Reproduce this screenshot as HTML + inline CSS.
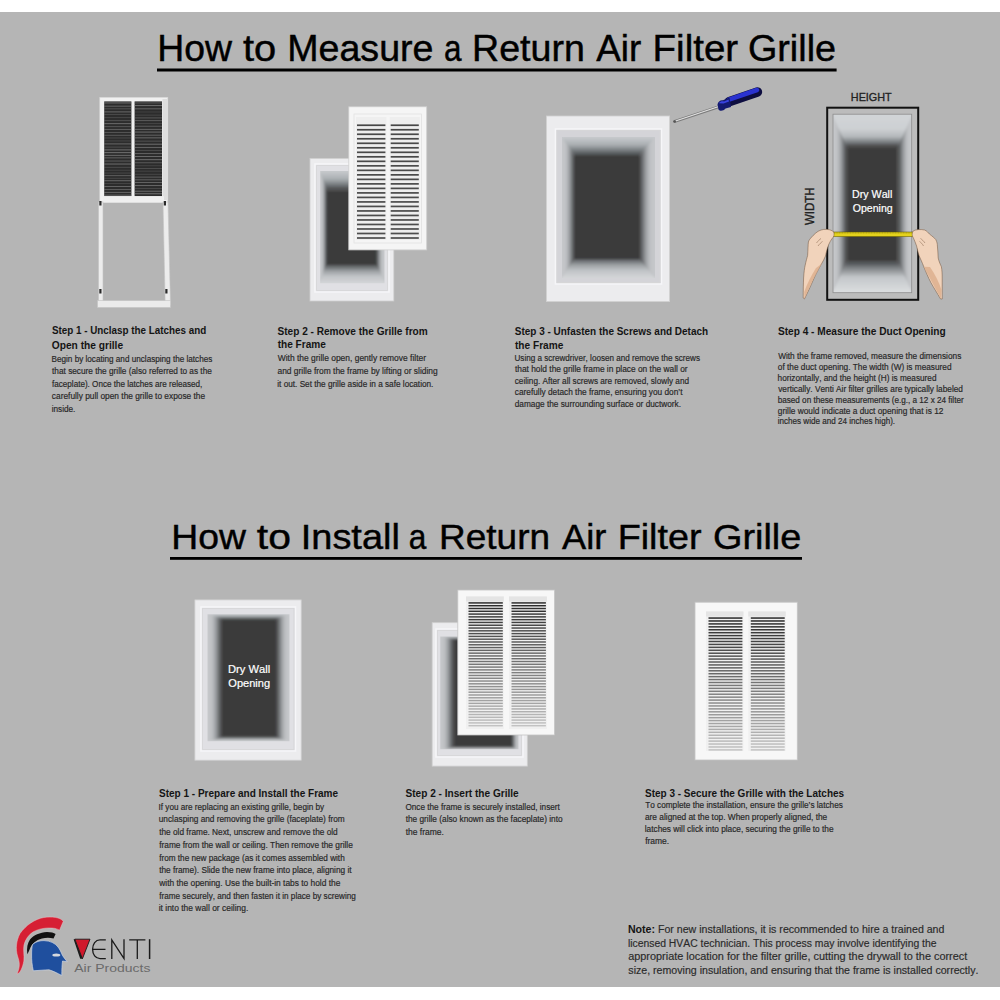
<!DOCTYPE html>
<html><head><meta charset="utf-8"><title>How to Measure a Return Air Filter Grille</title>
<style>
html,body{margin:0;padding:0;background:#ffffff;width:1000px;height:1000px;overflow:hidden}
svg{display:block}
text{font-family:"Liberation Sans",sans-serif;font-kerning:none}
</style></head><body>
<svg width="1000" height="1000" viewBox="0 0 1000 1000">
<defs>
<clipPath id="c1"><rect x="320.20" y="171.00" width="64.30" height="112.30" fill="#000"/></clipPath>
<filter id="f2" x="-10%" y="-10%" width="120%" height="120%"><feGaussianBlur stdDeviation="1.2"/></filter>
<linearGradient id="g3" gradientUnits="userSpaceOnUse" x1="0" y1="171" x2="0" y2="190.3"><stop offset="0" stop-color="#c8cbce"/><stop offset="0.42" stop-color="#a9aeb1"/><stop offset="0.68" stop-color="#7b8083"/><stop offset="0.95" stop-color="#4a4d4f"/><stop offset="1" stop-color="#3e3e3e"/></linearGradient>
<linearGradient id="g4" gradientUnits="userSpaceOnUse" x1="0" y1="265.5" x2="0" y2="283.3"><stop offset="0" stop-color="#55595c"/><stop offset="0.3" stop-color="#9a9ea1"/><stop offset="0.6" stop-color="#c0c3c6"/><stop offset="1" stop-color="#d4d6d8"/></linearGradient>
<linearGradient id="g5" gradientUnits="userSpaceOnUse" x1="320.2" y1="0" x2="327" y2="0"><stop offset="0" stop-color="#c6c8cb"/><stop offset="0.3" stop-color="#c0c2c5"/><stop offset="0.55" stop-color="#a0a3a6"/><stop offset="0.8" stop-color="#686b6e"/><stop offset="1" stop-color="#3e3e3e"/></linearGradient>
<linearGradient id="g6" gradientUnits="userSpaceOnUse" x1="384.5" y1="0" x2="376" y2="0"><stop offset="0" stop-color="#c6c8cb"/><stop offset="0.3" stop-color="#c0c2c5"/><stop offset="0.55" stop-color="#a0a3a6"/><stop offset="0.8" stop-color="#686b6e"/><stop offset="1" stop-color="#3e3e3e"/></linearGradient>
<clipPath id="c7"><rect x="562.00" y="137.00" width="93.00" height="141.00" fill="#000"/></clipPath>
<filter id="f8" x="-10%" y="-10%" width="120%" height="120%"><feGaussianBlur stdDeviation="1.2"/></filter>
<linearGradient id="g9" gradientUnits="userSpaceOnUse" x1="0" y1="137" x2="0" y2="156"><stop offset="0" stop-color="#c8cbce"/><stop offset="0.42" stop-color="#a9aeb1"/><stop offset="0.68" stop-color="#7b8083"/><stop offset="0.95" stop-color="#4a4d4f"/><stop offset="1" stop-color="#3e3e3e"/></linearGradient>
<linearGradient id="g10" gradientUnits="userSpaceOnUse" x1="0" y1="259" x2="0" y2="278"><stop offset="0" stop-color="#55595c"/><stop offset="0.3" stop-color="#9a9ea1"/><stop offset="0.6" stop-color="#c0c3c6"/><stop offset="1" stop-color="#d4d6d8"/></linearGradient>
<linearGradient id="g11" gradientUnits="userSpaceOnUse" x1="562" y1="0" x2="575" y2="0"><stop offset="0" stop-color="#c6c8cb"/><stop offset="0.3" stop-color="#c0c2c5"/><stop offset="0.55" stop-color="#a0a3a6"/><stop offset="0.8" stop-color="#686b6e"/><stop offset="1" stop-color="#3e3e3e"/></linearGradient>
<linearGradient id="g12" gradientUnits="userSpaceOnUse" x1="655" y1="0" x2="639" y2="0"><stop offset="0" stop-color="#c6c8cb"/><stop offset="0.3" stop-color="#c0c2c5"/><stop offset="0.55" stop-color="#a0a3a6"/><stop offset="0.8" stop-color="#686b6e"/><stop offset="1" stop-color="#3e3e3e"/></linearGradient>
<clipPath id="c13"><rect x="833.00" y="114.20" width="78.70" height="178.50" fill="#000"/></clipPath>
<filter id="f14" x="-10%" y="-10%" width="120%" height="120%"><feGaussianBlur stdDeviation="1.2"/></filter>
<linearGradient id="g15" gradientUnits="userSpaceOnUse" x1="0" y1="114.2" x2="0" y2="147.2"><stop offset="0" stop-color="#d2d5d8"/><stop offset="0.45" stop-color="#cdd0d3"/><stop offset="0.68" stop-color="#b4b8bb"/><stop offset="0.86" stop-color="#74787b"/><stop offset="1" stop-color="#3e3e3e"/></linearGradient>
<linearGradient id="g16" gradientUnits="userSpaceOnUse" x1="0" y1="261.7" x2="0" y2="292.7"><stop offset="0" stop-color="#45484a"/><stop offset="0.2" stop-color="#7e8285"/><stop offset="0.5" stop-color="#c4c7ca"/><stop offset="1" stop-color="#dcdee0"/></linearGradient>
<linearGradient id="g17" gradientUnits="userSpaceOnUse" x1="833" y1="0" x2="847.2" y2="0"><stop offset="0" stop-color="#c6c8cb"/><stop offset="0.3" stop-color="#c0c2c5"/><stop offset="0.55" stop-color="#a0a3a6"/><stop offset="0.8" stop-color="#686b6e"/><stop offset="1" stop-color="#3e3e3e"/></linearGradient>
<linearGradient id="g18" gradientUnits="userSpaceOnUse" x1="911.7" y1="0" x2="897.5" y2="0"><stop offset="0" stop-color="#c6c8cb"/><stop offset="0.3" stop-color="#c0c2c5"/><stop offset="0.55" stop-color="#a0a3a6"/><stop offset="0.8" stop-color="#686b6e"/><stop offset="1" stop-color="#3e3e3e"/></linearGradient>
<clipPath id="c19"><rect x="207.50" y="614.30" width="82.00" height="127.00" fill="#000"/></clipPath>
<filter id="f20" x="-10%" y="-10%" width="120%" height="120%"><feGaussianBlur stdDeviation="1.5"/></filter>
<linearGradient id="g21" gradientUnits="userSpaceOnUse" x1="0" y1="614.3" x2="0" y2="618.8"><stop offset="0" stop-color="#c8cbce"/><stop offset="0.42" stop-color="#a9aeb1"/><stop offset="0.68" stop-color="#7b8083"/><stop offset="0.95" stop-color="#4a4d4f"/><stop offset="1" stop-color="#3e3e3e"/></linearGradient>
<linearGradient id="g22" gradientUnits="userSpaceOnUse" x1="0" y1="737.7" x2="0" y2="741.3"><stop offset="0" stop-color="#55595c"/><stop offset="0.3" stop-color="#9a9ea1"/><stop offset="0.6" stop-color="#c0c3c6"/><stop offset="1" stop-color="#d4d6d8"/></linearGradient>
<linearGradient id="g23" gradientUnits="userSpaceOnUse" x1="207.5" y1="0" x2="221.9" y2="0"><stop offset="0" stop-color="#c6c8cb"/><stop offset="0.3" stop-color="#c0c2c5"/><stop offset="0.55" stop-color="#a0a3a6"/><stop offset="0.8" stop-color="#686b6e"/><stop offset="1" stop-color="#3e3e3e"/></linearGradient>
<linearGradient id="g24" gradientUnits="userSpaceOnUse" x1="289.5" y1="0" x2="276" y2="0"><stop offset="0" stop-color="#c6c8cb"/><stop offset="0.3" stop-color="#c0c2c5"/><stop offset="0.55" stop-color="#a0a3a6"/><stop offset="0.8" stop-color="#686b6e"/><stop offset="1" stop-color="#3e3e3e"/></linearGradient>
<clipPath id="c25"><rect x="440.20" y="636.60" width="78.30" height="112.70" fill="#000"/></clipPath>
<filter id="f26" x="-10%" y="-10%" width="120%" height="120%"><feGaussianBlur stdDeviation="1.5"/></filter>
<linearGradient id="g27" gradientUnits="userSpaceOnUse" x1="0" y1="636.6" x2="0" y2="639"><stop offset="0" stop-color="#c8cbce"/><stop offset="0.42" stop-color="#a9aeb1"/><stop offset="0.68" stop-color="#7b8083"/><stop offset="0.95" stop-color="#4a4d4f"/><stop offset="1" stop-color="#3e3e3e"/></linearGradient>
<linearGradient id="g28" gradientUnits="userSpaceOnUse" x1="0" y1="747.7" x2="0" y2="749.3"><stop offset="0" stop-color="#55595c"/><stop offset="0.3" stop-color="#9a9ea1"/><stop offset="0.6" stop-color="#c0c3c6"/><stop offset="1" stop-color="#d4d6d8"/></linearGradient>
<linearGradient id="g29" gradientUnits="userSpaceOnUse" x1="440.2" y1="0" x2="453.8" y2="0"><stop offset="0" stop-color="#c6c8cb"/><stop offset="0.3" stop-color="#c0c2c5"/><stop offset="0.55" stop-color="#a0a3a6"/><stop offset="0.8" stop-color="#686b6e"/><stop offset="1" stop-color="#3e3e3e"/></linearGradient>
<linearGradient id="g30" gradientUnits="userSpaceOnUse" x1="518.5" y1="0" x2="512" y2="0"><stop offset="0" stop-color="#c6c8cb"/><stop offset="0.3" stop-color="#c0c2c5"/><stop offset="0.55" stop-color="#a0a3a6"/><stop offset="0.8" stop-color="#686b6e"/><stop offset="1" stop-color="#3e3e3e"/></linearGradient>
</defs>
<rect x="0.00" y="0.00" width="1000.00" height="1000.00" fill="#ffffff"/>
<rect x="0.00" y="12.00" width="1000.00" height="975.00" fill="#b5b5b5"/>
<text x="157.31" y="61.00" font-size="36.3" font-weight="normal" fill="#000" textLength="74.72" lengthAdjust="spacingAndGlyphs" stroke="#000" stroke-width="0.45">How</text>
<text x="243.00" y="61.00" font-size="36.3" font-weight="normal" fill="#000" textLength="33.25" lengthAdjust="spacingAndGlyphs" stroke="#000" stroke-width="0.45">to</text>
<text x="287.30" y="61.00" font-size="36.3" font-weight="normal" fill="#000" textLength="146.14" lengthAdjust="spacingAndGlyphs" stroke="#000" stroke-width="0.45">Measure</text>
<text x="443.94" y="61.00" font-size="36.3" font-weight="normal" fill="#000" textLength="17.50" lengthAdjust="spacingAndGlyphs" stroke="#000" stroke-width="0.45">a</text>
<text x="472.09" y="61.00" font-size="36.3" font-weight="normal" fill="#000" textLength="112.82" lengthAdjust="spacingAndGlyphs" stroke="#000" stroke-width="0.45">Return</text>
<text x="596.20" y="61.00" font-size="36.3" font-weight="normal" fill="#000" textLength="45.05" lengthAdjust="spacingAndGlyphs" stroke="#000" stroke-width="0.45">Air</text>
<text x="652.62" y="61.00" font-size="36.3" font-weight="normal" fill="#000" textLength="85.55" lengthAdjust="spacingAndGlyphs" stroke="#000" stroke-width="0.45">Filter</text>
<text x="747.91" y="61.00" font-size="36.3" font-weight="normal" fill="#000" textLength="88.13" lengthAdjust="spacingAndGlyphs" stroke="#000" stroke-width="0.45">Grille</text>
<rect x="157.00" y="68.50" width="679.60" height="3.00" fill="#000"/>
<text x="171.22" y="549.40" font-size="35.8" font-weight="normal" fill="#000" textLength="74.62" lengthAdjust="spacingAndGlyphs" stroke="#000" stroke-width="0.45">How</text>
<text x="256.89" y="549.40" font-size="35.8" font-weight="normal" fill="#000" textLength="34.11" lengthAdjust="spacingAndGlyphs" stroke="#000" stroke-width="0.45">to</text>
<text x="300.79" y="549.40" font-size="35.8" font-weight="normal" fill="#000" textLength="99.07" lengthAdjust="spacingAndGlyphs" stroke="#000" stroke-width="0.45">Install</text>
<text x="408.83" y="549.40" font-size="35.8" font-weight="normal" fill="#000" textLength="17.60" lengthAdjust="spacingAndGlyphs" stroke="#000" stroke-width="0.45">a</text>
<text x="439.04" y="549.40" font-size="35.8" font-weight="normal" fill="#000" textLength="111.04" lengthAdjust="spacingAndGlyphs" stroke="#000" stroke-width="0.45">Return</text>
<text x="562.00" y="549.40" font-size="35.8" font-weight="normal" fill="#000" textLength="44.24" lengthAdjust="spacingAndGlyphs" stroke="#000" stroke-width="0.45">Air</text>
<text x="617.68" y="549.40" font-size="35.8" font-weight="normal" fill="#000" textLength="83.78" lengthAdjust="spacingAndGlyphs" stroke="#000" stroke-width="0.45">Filter</text>
<text x="713.01" y="549.40" font-size="35.8" font-weight="normal" fill="#000" textLength="88.24" lengthAdjust="spacingAndGlyphs" stroke="#000" stroke-width="0.45">Grille</text>
<rect x="170.00" y="557.00" width="632.00" height="2.80" fill="#000"/>
<text x="51.90" y="334.40" font-size="10.5" font-weight="bold" fill="#141414" textLength="154.34" lengthAdjust="spacingAndGlyphs">Step 1 - Unclasp the Latches and</text>
<text x="51.79" y="348.60" font-size="10.5" font-weight="bold" fill="#141414" textLength="71.32" lengthAdjust="spacingAndGlyphs">Open the grille</text>
<text x="51.55" y="361.60" font-size="8.5" font-weight="normal" fill="#262626" textLength="160.75" lengthAdjust="spacingAndGlyphs" stroke="#2a2a2a" stroke-width="0.18">Begin by locating and unclasping the latches</text>
<text x="52.08" y="374.20" font-size="8.5" font-weight="normal" fill="#262626" textLength="159.74" lengthAdjust="spacingAndGlyphs" stroke="#2a2a2a" stroke-width="0.18">that secure the grille (also referred to as the</text>
<text x="52.08" y="386.80" font-size="8.5" font-weight="normal" fill="#262626" textLength="150.22" lengthAdjust="spacingAndGlyphs" stroke="#2a2a2a" stroke-width="0.18">faceplate). Once the latches are released,</text>
<text x="51.87" y="399.40" font-size="8.5" font-weight="normal" fill="#262626" textLength="153.27" lengthAdjust="spacingAndGlyphs" stroke="#2a2a2a" stroke-width="0.18">carefully pull open the grille to expose the</text>
<text x="51.67" y="412.00" font-size="8.5" font-weight="normal" fill="#262626" textLength="23.74" lengthAdjust="spacingAndGlyphs" stroke="#2a2a2a" stroke-width="0.18">inside.</text>
<text x="277.50" y="334.60" font-size="10.5" font-weight="bold" fill="#141414" textLength="150.18" lengthAdjust="spacingAndGlyphs">Step 2 - Remove the Grille from</text>
<text x="277.70" y="348.10" font-size="10.5" font-weight="bold" fill="#141414" textLength="48.20" lengthAdjust="spacingAndGlyphs">the Frame</text>
<text x="277.76" y="361.40" font-size="8.5" font-weight="normal" fill="#262626" textLength="148.26" lengthAdjust="spacingAndGlyphs" stroke="#2a2a2a" stroke-width="0.18">With the grille open, gently remove filter</text>
<text x="277.46" y="374.00" font-size="8.5" font-weight="normal" fill="#262626" textLength="160.24" lengthAdjust="spacingAndGlyphs" stroke="#2a2a2a" stroke-width="0.18">and grille from the frame by lifting or sliding</text>
<text x="277.27" y="386.60" font-size="8.5" font-weight="normal" fill="#262626" textLength="156.14" lengthAdjust="spacingAndGlyphs" stroke="#2a2a2a" stroke-width="0.18">it out. Set the grille aside in a safe location.</text>
<text x="514.80" y="334.60" font-size="10.5" font-weight="bold" fill="#141414" textLength="193.29" lengthAdjust="spacingAndGlyphs">Step 3 - Unfasten the Screws and Detach</text>
<text x="515.00" y="348.50" font-size="10.5" font-weight="bold" fill="#141414" textLength="48.30" lengthAdjust="spacingAndGlyphs">the Frame</text>
<text x="514.49" y="360.80" font-size="8.5" font-weight="normal" fill="#262626" textLength="185.48" lengthAdjust="spacingAndGlyphs" stroke="#2a2a2a" stroke-width="0.18">Using a screwdriver, loosen and remove the screws</text>
<text x="514.97" y="372.30" font-size="8.5" font-weight="normal" fill="#262626" textLength="172.64" lengthAdjust="spacingAndGlyphs" stroke="#2a2a2a" stroke-width="0.18">that hold the grille frame in place on the wall or</text>
<text x="514.77" y="383.80" font-size="8.5" font-weight="normal" fill="#262626" textLength="174.23" lengthAdjust="spacingAndGlyphs" stroke="#2a2a2a" stroke-width="0.18">ceiling. After all screws are removed, slowly and</text>
<text x="514.77" y="395.30" font-size="8.5" font-weight="normal" fill="#262626" textLength="167.71" lengthAdjust="spacingAndGlyphs" stroke="#2a2a2a" stroke-width="0.18">carefully detach the frame, ensuring you don’t</text>
<text x="514.77" y="406.80" font-size="8.5" font-weight="normal" fill="#262626" textLength="166.25" lengthAdjust="spacingAndGlyphs" stroke="#2a2a2a" stroke-width="0.18">damage the surrounding surface or ductwork.</text>
<text x="777.90" y="335.00" font-size="10.5" font-weight="bold" fill="#141414" textLength="167.75" lengthAdjust="spacingAndGlyphs">Step 4 - Measure the Duct Opening</text>
<text x="778.16" y="359.40" font-size="8.5" font-weight="normal" fill="#262626" textLength="183.14" lengthAdjust="spacingAndGlyphs" stroke="#2a2a2a" stroke-width="0.18">With the frame removed, measure the dimensions</text>
<text x="777.87" y="370.30" font-size="8.5" font-weight="normal" fill="#262626" textLength="173.65" lengthAdjust="spacingAndGlyphs" stroke="#2a2a2a" stroke-width="0.18">of the duct opening. The width (W) is measured</text>
<text x="777.62" y="381.20" font-size="8.5" font-weight="normal" fill="#262626" textLength="158.87" lengthAdjust="spacingAndGlyphs" stroke="#2a2a2a" stroke-width="0.18">horizontally, and the height (H) is measured</text>
<text x="778.16" y="392.00" font-size="8.5" font-weight="normal" fill="#262626" textLength="184.77" lengthAdjust="spacingAndGlyphs" stroke="#2a2a2a" stroke-width="0.18">vertically. Venti Air filter grilles are typically labeled</text>
<text x="777.67" y="402.80" font-size="8.5" font-weight="normal" fill="#262626" textLength="186.02" lengthAdjust="spacingAndGlyphs" stroke="#2a2a2a" stroke-width="0.18">based on these measurements (e.g., a 12 x 24 filter</text>
<text x="777.87" y="413.60" font-size="8.5" font-weight="normal" fill="#262626" textLength="165.57" lengthAdjust="spacingAndGlyphs" stroke="#2a2a2a" stroke-width="0.18">grille would indicate a duct opening that is 12</text>
<text x="777.67" y="424.30" font-size="8.5" font-weight="normal" fill="#262626" textLength="117.45" lengthAdjust="spacingAndGlyphs" stroke="#2a2a2a" stroke-width="0.18">inches wide and 24 inches high).</text>
<text x="159.00" y="796.50" font-size="10.5" font-weight="bold" fill="#141414" textLength="179.10" lengthAdjust="spacingAndGlyphs">Step 1 - Prepare and Install the Frame</text>
<text x="158.57" y="809.80" font-size="8.5" font-weight="normal" fill="#262626" textLength="165.63" lengthAdjust="spacingAndGlyphs" stroke="#2a2a2a" stroke-width="0.18">If you are replacing an existing grille, begin by</text>
<text x="158.76" y="822.40" font-size="8.5" font-weight="normal" fill="#262626" textLength="185.95" lengthAdjust="spacingAndGlyphs" stroke="#2a2a2a" stroke-width="0.18">unclasping and removing the grille (faceplate) from</text>
<text x="159.18" y="835.10" font-size="8.5" font-weight="normal" fill="#262626" textLength="178.54" lengthAdjust="spacingAndGlyphs" stroke="#2a2a2a" stroke-width="0.18">the old frame. Next, unscrew and remove the old</text>
<text x="159.18" y="847.80" font-size="8.5" font-weight="normal" fill="#262626" textLength="193.66" lengthAdjust="spacingAndGlyphs" stroke="#2a2a2a" stroke-width="0.18">frame from the wall or ceiling. Then remove the grille</text>
<text x="159.18" y="860.60" font-size="8.5" font-weight="normal" fill="#262626" textLength="185.53" lengthAdjust="spacingAndGlyphs" stroke="#2a2a2a" stroke-width="0.18">from the new package (as it comes assembled with</text>
<text x="159.18" y="873.30" font-size="8.5" font-weight="normal" fill="#262626" textLength="192.37" lengthAdjust="spacingAndGlyphs" stroke="#2a2a2a" stroke-width="0.18">the frame). Slide the new frame into place, aligning it</text>
<text x="159.30" y="886.00" font-size="8.5" font-weight="normal" fill="#262626" textLength="181.04" lengthAdjust="spacingAndGlyphs" stroke="#2a2a2a" stroke-width="0.18">with the opening. Use the built-in tabs to hold the</text>
<text x="159.18" y="898.70" font-size="8.5" font-weight="normal" fill="#262626" textLength="196.61" lengthAdjust="spacingAndGlyphs" stroke="#2a2a2a" stroke-width="0.18">frame securely, and then fasten it in place by screwing</text>
<text x="158.75" y="911.40" font-size="8.5" font-weight="normal" fill="#262626" textLength="89.48" lengthAdjust="spacingAndGlyphs" stroke="#2a2a2a" stroke-width="0.18">it into the wall or ceiling.</text>
<text x="405.50" y="796.70" font-size="10.5" font-weight="bold" fill="#141414" textLength="113.21" lengthAdjust="spacingAndGlyphs">Step 2 - Insert the Grille</text>
<text x="405.43" y="809.70" font-size="8.5" font-weight="normal" fill="#262626" textLength="154.42" lengthAdjust="spacingAndGlyphs" stroke="#2a2a2a" stroke-width="0.18">Once the frame is securely installed, insert</text>
<text x="405.68" y="822.40" font-size="8.5" font-weight="normal" fill="#262626" textLength="156.96" lengthAdjust="spacingAndGlyphs" stroke="#2a2a2a" stroke-width="0.18">the grille (also known as the faceplate) into</text>
<text x="405.67" y="835.00" font-size="8.5" font-weight="normal" fill="#262626" textLength="38.27" lengthAdjust="spacingAndGlyphs" stroke="#2a2a2a" stroke-width="0.18">the frame.</text>
<text x="645.00" y="796.50" font-size="10.5" font-weight="bold" fill="#141414" textLength="199.10" lengthAdjust="spacingAndGlyphs">Step 3 - Secure the Grille with the Latches</text>
<text x="645.13" y="808.10" font-size="8.5" font-weight="normal" fill="#262626" textLength="197.75" lengthAdjust="spacingAndGlyphs" stroke="#2a2a2a" stroke-width="0.18">To complete the installation, ensure the grille’s latches</text>
<text x="644.97" y="820.00" font-size="8.5" font-weight="normal" fill="#262626" textLength="182.26" lengthAdjust="spacingAndGlyphs" stroke="#2a2a2a" stroke-width="0.18">are aligned at the top. When properly aligned, the</text>
<text x="644.76" y="831.90" font-size="8.5" font-weight="normal" fill="#262626" textLength="188.76" lengthAdjust="spacingAndGlyphs" stroke="#2a2a2a" stroke-width="0.18">latches will click into place, securing the grille to the</text>
<text x="645.17" y="843.60" font-size="8.5" font-weight="normal" fill="#262626" textLength="23.98" lengthAdjust="spacingAndGlyphs" stroke="#2a2a2a" stroke-width="0.18">frame.</text>
<text x="627.91" y="933" font-size="10.0" font-weight="bold" fill="#141414" textLength="27.10" lengthAdjust="spacingAndGlyphs">Note:</text>
<text x="657.96" y="933" font-size="10.0" fill="#2a2a2a" textLength="286.47" lengthAdjust="spacingAndGlyphs" stroke="#2a2a2a" stroke-width="0.15">For new installations, it is recommended to hire a trained and</text>
<text x="627.92" y="946.60" font-size="10.0" font-weight="normal" fill="#2a2a2a" textLength="308.59" lengthAdjust="spacingAndGlyphs" stroke="#2a2a2a" stroke-width="0.15">licensed HVAC technician. This process may involve identifying the</text>
<text x="628.16" y="960.10" font-size="10.0" font-weight="normal" fill="#2a2a2a" textLength="339.11" lengthAdjust="spacingAndGlyphs" stroke="#2a2a2a" stroke-width="0.15">appropriate location for the filter grille, cutting the drywall to the correct</text>
<text x="628.33" y="973.70" font-size="10.0" font-weight="normal" fill="#2a2a2a" textLength="350.10" lengthAdjust="spacingAndGlyphs" stroke="#2a2a2a" stroke-width="0.15">size, removing insulation, and ensuring that the frame is installed correctly.</text>
<rect x="99.80" y="97.40" width="68.00" height="104.80" fill="#f1f1f1" stroke="#d8d8d8" stroke-width="0.6"/>
<rect x="162.50" y="99.00" width="5.00" height="101.00" fill="#dedede"/>
<rect x="104.20" y="101.40" width="27.20" height="94.80" fill="#2c2c2c"/>
<rect x="104.20" y="102.50" width="27.20" height="0.9" fill="#8c8c8c" fill-opacity="0.78"/>
<rect x="104.20" y="105.70" width="27.20" height="0.9" fill="#8c8c8c" fill-opacity="0.65"/>
<rect x="104.20" y="108.38" width="27.20" height="0.9" fill="#8c8c8c" fill-opacity="0.43"/>
<rect x="104.20" y="111.45" width="27.20" height="0.9" fill="#8c8c8c" fill-opacity="0.69"/>
<rect x="104.20" y="113.96" width="27.20" height="0.9" fill="#8c8c8c" fill-opacity="0.34"/>
<rect x="104.20" y="117.18" width="27.20" height="0.9" fill="#8c8c8c" fill-opacity="0.31"/>
<rect x="104.20" y="120.20" width="27.20" height="0.9" fill="#8c8c8c" fill-opacity="0.43"/>
<rect x="104.20" y="123.22" width="27.20" height="0.9" fill="#8c8c8c" fill-opacity="0.72"/>
<rect x="104.20" y="126.19" width="27.20" height="0.9" fill="#8c8c8c" fill-opacity="0.47"/>
<rect x="104.20" y="128.94" width="27.20" height="0.9" fill="#8c8c8c" fill-opacity="0.59"/>
<rect x="104.20" y="131.95" width="27.20" height="0.9" fill="#8c8c8c" fill-opacity="0.48"/>
<rect x="104.20" y="134.82" width="27.20" height="0.9" fill="#8c8c8c" fill-opacity="0.54"/>
<rect x="104.20" y="137.53" width="27.20" height="0.9" fill="#8c8c8c" fill-opacity="0.35"/>
<rect x="104.20" y="140.48" width="27.20" height="0.9" fill="#8c8c8c" fill-opacity="0.31"/>
<rect x="104.20" y="143.46" width="27.20" height="0.9" fill="#8c8c8c" fill-opacity="0.69"/>
<rect x="104.20" y="146.62" width="27.20" height="0.9" fill="#8c8c8c" fill-opacity="0.39"/>
<rect x="104.20" y="149.45" width="27.20" height="0.9" fill="#8c8c8c" fill-opacity="0.76"/>
<rect x="104.20" y="152.23" width="27.20" height="0.9" fill="#8c8c8c" fill-opacity="0.80"/>
<rect x="104.20" y="154.89" width="27.20" height="0.9" fill="#8c8c8c" fill-opacity="0.71"/>
<rect x="104.20" y="157.43" width="27.20" height="0.9" fill="#8c8c8c" fill-opacity="0.62"/>
<rect x="104.20" y="160.57" width="27.20" height="0.9" fill="#8c8c8c" fill-opacity="0.55"/>
<rect x="104.20" y="163.58" width="27.20" height="0.9" fill="#8c8c8c" fill-opacity="0.75"/>
<rect x="104.20" y="166.87" width="27.20" height="0.9" fill="#8c8c8c" fill-opacity="0.35"/>
<rect x="104.20" y="169.79" width="27.20" height="0.9" fill="#8c8c8c" fill-opacity="0.27"/>
<rect x="104.20" y="172.60" width="27.20" height="0.9" fill="#8c8c8c" fill-opacity="0.33"/>
<rect x="104.20" y="175.22" width="27.20" height="0.9" fill="#8c8c8c" fill-opacity="0.59"/>
<rect x="104.20" y="177.79" width="27.20" height="0.9" fill="#8c8c8c" fill-opacity="0.33"/>
<rect x="104.20" y="180.30" width="27.20" height="0.9" fill="#8c8c8c" fill-opacity="0.70"/>
<rect x="104.20" y="182.99" width="27.20" height="0.9" fill="#8c8c8c" fill-opacity="0.29"/>
<rect x="104.20" y="185.99" width="27.20" height="0.9" fill="#8c8c8c" fill-opacity="0.64"/>
<rect x="104.20" y="188.99" width="27.20" height="0.9" fill="#8c8c8c" fill-opacity="0.55"/>
<rect x="104.20" y="191.92" width="27.20" height="0.9" fill="#8c8c8c" fill-opacity="0.65"/>
<rect x="104.20" y="194.67" width="27.20" height="0.9" fill="#8c8c8c" fill-opacity="0.71"/>
<rect x="134.60" y="101.40" width="27.40" height="94.80" fill="#2c2c2c"/>
<rect x="134.60" y="102.50" width="27.40" height="0.9" fill="#8c8c8c" fill-opacity="0.52"/>
<rect x="134.60" y="105.16" width="27.40" height="0.9" fill="#8c8c8c" fill-opacity="0.79"/>
<rect x="134.60" y="108.39" width="27.40" height="0.9" fill="#8c8c8c" fill-opacity="0.66"/>
<rect x="134.60" y="111.56" width="27.40" height="0.9" fill="#8c8c8c" fill-opacity="0.26"/>
<rect x="134.60" y="114.67" width="27.40" height="0.9" fill="#8c8c8c" fill-opacity="0.31"/>
<rect x="134.60" y="117.48" width="27.40" height="0.9" fill="#8c8c8c" fill-opacity="0.52"/>
<rect x="134.60" y="120.18" width="27.40" height="0.9" fill="#8c8c8c" fill-opacity="0.55"/>
<rect x="134.60" y="123.04" width="27.40" height="0.9" fill="#8c8c8c" fill-opacity="0.27"/>
<rect x="134.60" y="125.77" width="27.40" height="0.9" fill="#8c8c8c" fill-opacity="0.53"/>
<rect x="134.60" y="128.90" width="27.40" height="0.9" fill="#8c8c8c" fill-opacity="0.65"/>
<rect x="134.60" y="131.62" width="27.40" height="0.9" fill="#8c8c8c" fill-opacity="0.75"/>
<rect x="134.60" y="134.72" width="27.40" height="0.9" fill="#8c8c8c" fill-opacity="0.63"/>
<rect x="134.60" y="137.43" width="27.40" height="0.9" fill="#8c8c8c" fill-opacity="0.73"/>
<rect x="134.60" y="140.67" width="27.40" height="0.9" fill="#8c8c8c" fill-opacity="0.46"/>
<rect x="134.60" y="143.74" width="27.40" height="0.9" fill="#8c8c8c" fill-opacity="0.76"/>
<rect x="134.60" y="146.97" width="27.40" height="0.9" fill="#8c8c8c" fill-opacity="0.62"/>
<rect x="134.60" y="150.01" width="27.40" height="0.9" fill="#8c8c8c" fill-opacity="0.33"/>
<rect x="134.60" y="153.17" width="27.40" height="0.9" fill="#8c8c8c" fill-opacity="0.65"/>
<rect x="134.60" y="156.09" width="27.40" height="0.9" fill="#8c8c8c" fill-opacity="0.72"/>
<rect x="134.60" y="159.25" width="27.40" height="0.9" fill="#8c8c8c" fill-opacity="0.77"/>
<rect x="134.60" y="162.33" width="27.40" height="0.9" fill="#8c8c8c" fill-opacity="0.53"/>
<rect x="134.60" y="165.29" width="27.40" height="0.9" fill="#8c8c8c" fill-opacity="0.28"/>
<rect x="134.60" y="168.10" width="27.40" height="0.9" fill="#8c8c8c" fill-opacity="0.38"/>
<rect x="134.60" y="170.71" width="27.40" height="0.9" fill="#8c8c8c" fill-opacity="0.30"/>
<rect x="134.60" y="173.85" width="27.40" height="0.9" fill="#8c8c8c" fill-opacity="0.30"/>
<rect x="134.60" y="176.64" width="27.40" height="0.9" fill="#8c8c8c" fill-opacity="0.59"/>
<rect x="134.60" y="179.39" width="27.40" height="0.9" fill="#8c8c8c" fill-opacity="0.60"/>
<rect x="134.60" y="182.10" width="27.40" height="0.9" fill="#8c8c8c" fill-opacity="0.63"/>
<rect x="134.60" y="185.14" width="27.40" height="0.9" fill="#8c8c8c" fill-opacity="0.69"/>
<rect x="134.60" y="187.95" width="27.40" height="0.9" fill="#8c8c8c" fill-opacity="0.35"/>
<rect x="134.60" y="190.75" width="27.40" height="0.9" fill="#8c8c8c" fill-opacity="0.69"/>
<rect x="134.60" y="193.32" width="27.40" height="0.9" fill="#8c8c8c" fill-opacity="0.76"/>
<rect x="103.00" y="196.20" width="61.00" height="6.30" fill="#efefef"/>
<rect x="98.50" y="202.00" width="4.50" height="103.00" fill="#ececec" stroke="#c4c4c4" stroke-width="0.6"/>
<path d="M163,202 L168,202 L170.5,305 L165.2,305 Z" fill="#ececec" stroke="#c4c4c4" stroke-width="0.6"/>
<rect x="97.50" y="300.60" width="73.00" height="6.90" fill="#ebebeb" stroke="#c4c4c4" stroke-width="0.6"/>
<rect x="99.30" y="201.00" width="2.20" height="4.50" fill="#2a2a2a"/>
<rect x="163.80" y="201.00" width="2.20" height="4.50" fill="#2a2a2a"/>
<rect x="99.30" y="289.00" width="2.20" height="4.50" fill="#2a2a2a"/>
<rect x="165.30" y="289.00" width="2.20" height="4.50" fill="#2a2a2a"/>
<rect x="310.00" y="158.50" width="83.80" height="142.50" fill="#ececee" stroke="#d0d0d0" stroke-width="0.8"/>
<rect x="315.00" y="164.00" width="74.00" height="128.00" fill="#e0e0e4" stroke="#f6f6f8" stroke-width="1.6"/>
<rect x="316.60" y="165.60" width="70.80" height="124.80" fill="none" stroke="#d6d6d8" stroke-width="0.8"/>
<g clip-path="url(#c1)"><g filter="url(#f2)"><rect x="320.20" y="171.00" width="64.30" height="112.30" fill="#c0c2c5"/><polygon points="318.2,169 386.5,169 376,190.3 327,190.3" fill="url(#g3)"/><polygon points="327,265.5 376,265.5 386.5,285.3 318.2,285.3" fill="url(#g4)"/><polygon points="318.2,169 327,190.3 327,265.5 318.2,285.3" fill="url(#g5)"/><polygon points="386.5,169 376,190.3 376,265.5 386.5,285.3" fill="url(#g6)"/><rect x="327.00" y="190.30" width="49.00" height="75.20" fill="#3a3a3a"/></g></g>
<rect x="348.80" y="106.80" width="77.90" height="143.10" fill="#f5f5f5" stroke="#cfcfcf" stroke-width="0.8"/>
<rect x="354.00" y="114.00" width="67.50" height="129.00" fill="none" stroke="#e2e2e2" stroke-width="0.8"/>
<rect x="356.00" y="117.00" width="30.40" height="123.00" fill="#eeeeee"/>
<rect x="357.00" y="124.40" width="28.40" height="1.7" fill="#383838" fill-opacity="0.92"/><rect x="357.00" y="128.91" width="28.40" height="1.7" fill="#383838" fill-opacity="0.92"/><rect x="357.00" y="133.42" width="28.40" height="1.7" fill="#383838" fill-opacity="0.91"/><rect x="357.00" y="137.93" width="28.40" height="1.7" fill="#383838" fill-opacity="0.91"/><rect x="357.00" y="142.44" width="28.40" height="1.7" fill="#383838" fill-opacity="0.91"/><rect x="357.00" y="146.95" width="28.40" height="1.7" fill="#383838" fill-opacity="0.91"/><rect x="357.00" y="151.46" width="28.40" height="1.7" fill="#383838" fill-opacity="0.91"/><rect x="357.00" y="155.97" width="28.40" height="1.7" fill="#383838" fill-opacity="0.91"/><rect x="357.00" y="160.48" width="28.40" height="1.7" fill="#383838" fill-opacity="0.91"/><rect x="357.00" y="164.99" width="28.40" height="1.7" fill="#383838" fill-opacity="0.90"/><rect x="357.00" y="169.50" width="28.40" height="1.7" fill="#383838" fill-opacity="0.90"/><rect x="357.00" y="174.01" width="28.40" height="1.7" fill="#383838" fill-opacity="0.90"/><rect x="357.00" y="178.52" width="28.40" height="1.7" fill="#383838" fill-opacity="0.90"/><rect x="357.00" y="183.03" width="28.40" height="1.7" fill="#383838" fill-opacity="0.90"/><rect x="357.00" y="187.54" width="28.40" height="1.7" fill="#383838" fill-opacity="0.90"/><rect x="357.00" y="192.05" width="28.40" height="1.7" fill="#383838" fill-opacity="0.90"/><rect x="357.00" y="196.56" width="28.40" height="1.7" fill="#383838" fill-opacity="0.89"/><rect x="357.00" y="201.07" width="28.40" height="1.7" fill="#383838" fill-opacity="0.89"/><rect x="357.00" y="205.58" width="28.40" height="1.7" fill="#383838" fill-opacity="0.89"/><rect x="357.00" y="210.09" width="28.40" height="1.7" fill="#383838" fill-opacity="0.89"/><rect x="357.00" y="214.60" width="28.40" height="1.7" fill="#383838" fill-opacity="0.89"/><rect x="357.00" y="219.11" width="28.40" height="1.7" fill="#383838" fill-opacity="0.89"/><rect x="357.00" y="223.62" width="28.40" height="1.7" fill="#383838" fill-opacity="0.89"/><rect x="357.00" y="228.13" width="28.40" height="1.7" fill="#383838" fill-opacity="0.88"/><rect x="357.00" y="232.64" width="28.40" height="1.7" fill="#383838" fill-opacity="0.88"/><rect x="357.00" y="237.15" width="28.40" height="1.7" fill="#383838" fill-opacity="0.88"/>
<rect x="389.70" y="117.00" width="30.10" height="123.00" fill="#eeeeee"/>
<rect x="390.70" y="124.40" width="28.10" height="1.7" fill="#383838" fill-opacity="0.92"/><rect x="390.70" y="128.91" width="28.10" height="1.7" fill="#383838" fill-opacity="0.92"/><rect x="390.70" y="133.42" width="28.10" height="1.7" fill="#383838" fill-opacity="0.91"/><rect x="390.70" y="137.93" width="28.10" height="1.7" fill="#383838" fill-opacity="0.91"/><rect x="390.70" y="142.44" width="28.10" height="1.7" fill="#383838" fill-opacity="0.91"/><rect x="390.70" y="146.95" width="28.10" height="1.7" fill="#383838" fill-opacity="0.91"/><rect x="390.70" y="151.46" width="28.10" height="1.7" fill="#383838" fill-opacity="0.91"/><rect x="390.70" y="155.97" width="28.10" height="1.7" fill="#383838" fill-opacity="0.91"/><rect x="390.70" y="160.48" width="28.10" height="1.7" fill="#383838" fill-opacity="0.91"/><rect x="390.70" y="164.99" width="28.10" height="1.7" fill="#383838" fill-opacity="0.90"/><rect x="390.70" y="169.50" width="28.10" height="1.7" fill="#383838" fill-opacity="0.90"/><rect x="390.70" y="174.01" width="28.10" height="1.7" fill="#383838" fill-opacity="0.90"/><rect x="390.70" y="178.52" width="28.10" height="1.7" fill="#383838" fill-opacity="0.90"/><rect x="390.70" y="183.03" width="28.10" height="1.7" fill="#383838" fill-opacity="0.90"/><rect x="390.70" y="187.54" width="28.10" height="1.7" fill="#383838" fill-opacity="0.90"/><rect x="390.70" y="192.05" width="28.10" height="1.7" fill="#383838" fill-opacity="0.90"/><rect x="390.70" y="196.56" width="28.10" height="1.7" fill="#383838" fill-opacity="0.89"/><rect x="390.70" y="201.07" width="28.10" height="1.7" fill="#383838" fill-opacity="0.89"/><rect x="390.70" y="205.58" width="28.10" height="1.7" fill="#383838" fill-opacity="0.89"/><rect x="390.70" y="210.09" width="28.10" height="1.7" fill="#383838" fill-opacity="0.89"/><rect x="390.70" y="214.60" width="28.10" height="1.7" fill="#383838" fill-opacity="0.89"/><rect x="390.70" y="219.11" width="28.10" height="1.7" fill="#383838" fill-opacity="0.89"/><rect x="390.70" y="223.62" width="28.10" height="1.7" fill="#383838" fill-opacity="0.89"/><rect x="390.70" y="228.13" width="28.10" height="1.7" fill="#383838" fill-opacity="0.88"/><rect x="390.70" y="232.64" width="28.10" height="1.7" fill="#383838" fill-opacity="0.88"/><rect x="390.70" y="237.15" width="28.10" height="1.7" fill="#383838" fill-opacity="0.88"/>
<rect x="546.40" y="116.00" width="123.20" height="185.60" fill="#ececee" stroke="#d0d0d0" stroke-width="0.8"/>
<rect x="555.50" y="129.00" width="106.00" height="155.00" fill="#d4d4d8" stroke="#f6f6f8" stroke-width="1.6"/>
<rect x="557.10" y="130.60" width="102.80" height="151.80" fill="none" stroke="#d6d6d8" stroke-width="0.8"/>
<g clip-path="url(#c7)"><g filter="url(#f8)"><rect x="562.00" y="137.00" width="93.00" height="141.00" fill="#c0c2c5"/><polygon points="560,135 657,135 639,156 575,156" fill="url(#g9)"/><polygon points="575,259 639,259 657,280 560,280" fill="url(#g10)"/><polygon points="560,135 575,156 575,259 560,280" fill="url(#g11)"/><polygon points="657,135 639,156 639,259 657,280" fill="url(#g12)"/><rect x="575.00" y="156.00" width="64.00" height="103.00" fill="#3a3a3a"/></g></g>
<line x1="674.8" y1="121.4" x2="720" y2="106.4" stroke="#7c7c7c" stroke-width="2.8" stroke-linecap="round"/>
<line x1="675.5" y1="120.9" x2="719.5" y2="106.2" stroke="#e2e2e2" stroke-width="1.1"/>
<circle cx="674.6" cy="121.5" r="1.3" fill="#555"/>
<line x1="729" y1="101.8" x2="757.5" y2="92" stroke="#0d0d40" stroke-width="9.4" stroke-linecap="round"/>
<line x1="729" y1="99.6" x2="757" y2="90" stroke="#2a32d0" stroke-width="4.6" stroke-linecap="round"/>
<path d="M717.5,104.5 C718,101.5 720.5,99.8 723,100.3 L729.5,97.5 L731,107 L725.5,108.5 C723.5,111 720,111.5 718.5,109.5 Z" fill="#141a70"/>
<path d="M719,103.2 C720,101.5 722,101 724,101.5 L728.5,99.5 L729,101.5 L723.5,103.5 Z" fill="#3a44e0"/>
<text x="850.83" y="100.70" font-size="11.4" font-weight="normal" fill="#222" textLength="40.91" lengthAdjust="spacingAndGlyphs" stroke="#222" stroke-width="0.35">HEIGHT</text>
<rect x="827.20" y="107.70" width="91.00" height="192.10" fill="#bcbcbc" stroke="#111" stroke-width="2"/>
<g clip-path="url(#c13)"><g filter="url(#f14)"><rect x="833.00" y="114.20" width="78.70" height="178.50" fill="#c0c2c5"/><polygon points="831,112.2 913.7,112.2 897.5,147.2 847.2,147.2" fill="url(#g15)"/><polygon points="847.2,261.7 897.5,261.7 913.7,294.7 831,294.7" fill="url(#g16)"/><polygon points="831,112.2 847.2,147.2 847.2,261.7 831,294.7" fill="url(#g17)"/><polygon points="913.7,112.2 897.5,147.2 897.5,261.7 913.7,294.7" fill="url(#g18)"/><rect x="847.20" y="147.20" width="50.30" height="114.50" fill="#3a3a3a"/></g></g>
<rect x="833.00" y="114.20" width="78.70" height="178.50" fill="none" stroke="#8e8e8e" stroke-width="0.8"/>
<text x="852.14" y="197.90" font-size="10.3" font-weight="normal" fill="#ffffff" textLength="40.16" lengthAdjust="spacingAndGlyphs" stroke="#fff" stroke-width="0.2">Dry Wall</text>
<text x="852.83" y="212.40" font-size="10.3" font-weight="normal" fill="#ffffff" textLength="39.81" lengthAdjust="spacingAndGlyphs" stroke="#fff" stroke-width="0.2">Opening</text>
<g transform="translate(814.2,225) rotate(-90)"><text x="-0.06" y="0.00" font-size="12.2" font-weight="normal" fill="#222" textLength="37.49" lengthAdjust="spacingAndGlyphs" stroke="#222" stroke-width="0.35">WIDTH</text></g>
<rect x="832.00" y="232.00" width="81.00" height="4.60" fill="#e4d21c" stroke="#5a5000" stroke-width="0.5"/>
<line x1="833.0" y1="232.2" x2="833.0" y2="233.6" stroke="#5a5000" stroke-width="0.3"/><line x1="834.6" y1="232.2" x2="834.6" y2="233.6" stroke="#5a5000" stroke-width="0.3"/><line x1="836.2" y1="232.2" x2="836.2" y2="233.6" stroke="#5a5000" stroke-width="0.3"/><line x1="837.8" y1="232.2" x2="837.8" y2="233.6" stroke="#5a5000" stroke-width="0.3"/><line x1="839.4" y1="232.2" x2="839.4" y2="233.6" stroke="#5a5000" stroke-width="0.3"/><line x1="841.0" y1="232.2" x2="841.0" y2="233.6" stroke="#5a5000" stroke-width="0.3"/><line x1="842.6" y1="232.2" x2="842.6" y2="233.6" stroke="#5a5000" stroke-width="0.3"/><line x1="844.2" y1="232.2" x2="844.2" y2="233.6" stroke="#5a5000" stroke-width="0.3"/><line x1="845.8" y1="232.2" x2="845.8" y2="233.6" stroke="#5a5000" stroke-width="0.3"/><line x1="847.4" y1="232.2" x2="847.4" y2="233.6" stroke="#5a5000" stroke-width="0.3"/><line x1="849.0" y1="232.2" x2="849.0" y2="233.6" stroke="#5a5000" stroke-width="0.3"/><line x1="850.6" y1="232.2" x2="850.6" y2="233.6" stroke="#5a5000" stroke-width="0.3"/><line x1="852.2" y1="232.2" x2="852.2" y2="233.6" stroke="#5a5000" stroke-width="0.3"/><line x1="853.8" y1="232.2" x2="853.8" y2="233.6" stroke="#5a5000" stroke-width="0.3"/><line x1="855.4" y1="232.2" x2="855.4" y2="233.6" stroke="#5a5000" stroke-width="0.3"/><line x1="857.0" y1="232.2" x2="857.0" y2="233.6" stroke="#5a5000" stroke-width="0.3"/><line x1="858.6" y1="232.2" x2="858.6" y2="233.6" stroke="#5a5000" stroke-width="0.3"/><line x1="860.2" y1="232.2" x2="860.2" y2="233.6" stroke="#5a5000" stroke-width="0.3"/><line x1="861.8" y1="232.2" x2="861.8" y2="233.6" stroke="#5a5000" stroke-width="0.3"/><line x1="863.4" y1="232.2" x2="863.4" y2="233.6" stroke="#5a5000" stroke-width="0.3"/><line x1="865.0" y1="232.2" x2="865.0" y2="233.6" stroke="#5a5000" stroke-width="0.3"/><line x1="866.6" y1="232.2" x2="866.6" y2="233.6" stroke="#5a5000" stroke-width="0.3"/><line x1="868.2" y1="232.2" x2="868.2" y2="233.6" stroke="#5a5000" stroke-width="0.3"/><line x1="869.8" y1="232.2" x2="869.8" y2="233.6" stroke="#5a5000" stroke-width="0.3"/><line x1="871.4" y1="232.2" x2="871.4" y2="233.6" stroke="#5a5000" stroke-width="0.3"/><line x1="873.0" y1="232.2" x2="873.0" y2="233.6" stroke="#5a5000" stroke-width="0.3"/><line x1="874.6" y1="232.2" x2="874.6" y2="233.6" stroke="#5a5000" stroke-width="0.3"/><line x1="876.2" y1="232.2" x2="876.2" y2="233.6" stroke="#5a5000" stroke-width="0.3"/><line x1="877.8" y1="232.2" x2="877.8" y2="233.6" stroke="#5a5000" stroke-width="0.3"/><line x1="879.4" y1="232.2" x2="879.4" y2="233.6" stroke="#5a5000" stroke-width="0.3"/><line x1="881.0" y1="232.2" x2="881.0" y2="233.6" stroke="#5a5000" stroke-width="0.3"/><line x1="882.6" y1="232.2" x2="882.6" y2="233.6" stroke="#5a5000" stroke-width="0.3"/><line x1="884.2" y1="232.2" x2="884.2" y2="233.6" stroke="#5a5000" stroke-width="0.3"/><line x1="885.8" y1="232.2" x2="885.8" y2="233.6" stroke="#5a5000" stroke-width="0.3"/><line x1="887.4" y1="232.2" x2="887.4" y2="233.6" stroke="#5a5000" stroke-width="0.3"/><line x1="889.0" y1="232.2" x2="889.0" y2="233.6" stroke="#5a5000" stroke-width="0.3"/><line x1="890.6" y1="232.2" x2="890.6" y2="233.6" stroke="#5a5000" stroke-width="0.3"/><line x1="892.2" y1="232.2" x2="892.2" y2="233.6" stroke="#5a5000" stroke-width="0.3"/><line x1="893.8" y1="232.2" x2="893.8" y2="233.6" stroke="#5a5000" stroke-width="0.3"/><line x1="895.4" y1="232.2" x2="895.4" y2="233.6" stroke="#5a5000" stroke-width="0.3"/><line x1="897.0" y1="232.2" x2="897.0" y2="233.6" stroke="#5a5000" stroke-width="0.3"/><line x1="898.6" y1="232.2" x2="898.6" y2="233.6" stroke="#5a5000" stroke-width="0.3"/><line x1="900.2" y1="232.2" x2="900.2" y2="233.6" stroke="#5a5000" stroke-width="0.3"/><line x1="901.8" y1="232.2" x2="901.8" y2="233.6" stroke="#5a5000" stroke-width="0.3"/><line x1="903.4" y1="232.2" x2="903.4" y2="233.6" stroke="#5a5000" stroke-width="0.3"/><line x1="905.0" y1="232.2" x2="905.0" y2="233.6" stroke="#5a5000" stroke-width="0.3"/><line x1="906.6" y1="232.2" x2="906.6" y2="233.6" stroke="#5a5000" stroke-width="0.3"/><line x1="908.2" y1="232.2" x2="908.2" y2="233.6" stroke="#5a5000" stroke-width="0.3"/><line x1="909.8" y1="232.2" x2="909.8" y2="233.6" stroke="#5a5000" stroke-width="0.3"/><line x1="911.4" y1="232.2" x2="911.4" y2="233.6" stroke="#5a5000" stroke-width="0.3"/>
<path d="M821.2,230 C824,229 829,229 832.4,230.8 C834.5,232 834.5,235.5 833.2,237.2 C831.5,239 829,243 827.6,247.6 C826.5,251 826,254 825.5,256 C823.5,261 820,266 816.4,273.2 C813.5,279 810,288 804.4,299 L803.2,298 C803.2,290 803.4,283 803.6,278 C804,272 804.5,268 805.2,265.2 C806,261 807,258 807.6,255.6 C808,250 808,245 808.4,242 C809,240 810,239 810.8,238 C812.5,236 814,234.5 815.6,233.2 C817.5,231.5 819.5,230.5 821.2,230 Z" fill="#f1d3bb" stroke="#6e5038" stroke-width="0.5"/>
<path d="M822,263.6 C818,270 812,281 804.6,298.5 L804.2,292 C807,284 811,276 816,268 Z" fill="#dcae8c" opacity="0.8"/>
<path d="M816.5,243 C818,241 819.5,239.5 821,238.5 M818,246 C819.5,244 821,242.5 822.5,241.5" fill="none" stroke="#8a6a50" stroke-width="0.7" opacity="0.8"/>
<path d="M913.4,230.8 C916,229.4 921,229.2 924.6,230 C927,231 928,232.5 929.4,234 C932,236 934.5,238 935.8,239.6 C937,242 937.4,244 937.4,246 C937.8,250 938,254 938.2,258 C939,262 940.5,264.5 941.4,266.8 C942,270 942.2,274 942.2,278 L942.2,299 L940.6,299 C937,293 934,288 931,282.8 C928,277 926,272 923.8,266.8 C922,262 920.5,259 919,255.6 C918,252 917.2,249 916.6,246 C915.5,243 914.5,240.5 913.4,238 C912.5,236.5 912,235 912.2,234 C912.4,232.5 912.8,231.5 913.4,230.8 Z" fill="#f1d3bb" stroke="#6e5038" stroke-width="0.5"/>
<path d="M923.8,266.8 C928,275 934,286 940.8,298.5 L941.5,290 C939,282 935,274 930,267 Z" fill="#dcae8c" opacity="0.8"/>
<path d="M920.5,238.5 C922,239.5 923.5,241 925,243 M919.5,241.5 C921,242.5 922.5,244 923.5,246" fill="none" stroke="#8a6a50" stroke-width="0.7" opacity="0.8"/>
<rect x="194.90" y="599.90" width="106.30" height="160.30" fill="#ececee" stroke="#d0d0d0" stroke-width="0.8"/>
<rect x="201.00" y="607.00" width="94.50" height="144.00" fill="#e0e0e4" stroke="#f6f6f8" stroke-width="1.6"/>
<rect x="202.60" y="608.60" width="91.30" height="140.80" fill="none" stroke="#d6d6d8" stroke-width="0.8"/>
<g clip-path="url(#c19)"><g filter="url(#f20)"><rect x="207.50" y="614.30" width="82.00" height="127.00" fill="#c0c2c5"/><polygon points="205.5,612.3 291.5,612.3 276,618.8 221.9,618.8" fill="url(#g21)"/><polygon points="221.9,737.7 276,737.7 291.5,743.3 205.5,743.3" fill="url(#g22)"/><polygon points="205.5,612.3 221.9,618.8 221.9,737.7 205.5,743.3" fill="url(#g23)"/><polygon points="291.5,612.3 276,618.8 276,737.7 291.5,743.3" fill="url(#g24)"/><rect x="221.90" y="618.80" width="54.10" height="118.90" fill="#3a3a3a"/></g></g>
<text x="227.90" y="673.00" font-size="10.6" font-weight="normal" fill="#ffffff" textLength="42.24" lengthAdjust="spacingAndGlyphs" stroke="#fff" stroke-width="0.2">Dry Wall</text>
<text x="228.30" y="687.20" font-size="10.6" font-weight="normal" fill="#ffffff" textLength="41.77" lengthAdjust="spacingAndGlyphs" stroke="#fff" stroke-width="0.2">Opening</text>
<rect x="432.20" y="622.70" width="95.10" height="143.40" fill="#ececee" stroke="#d0d0d0" stroke-width="0.8"/>
<rect x="436.00" y="629.00" width="87.00" height="128.00" fill="#e0e0e4" stroke="#f6f6f8" stroke-width="1.6"/>
<rect x="437.60" y="630.60" width="83.80" height="124.80" fill="none" stroke="#d6d6d8" stroke-width="0.8"/>
<g clip-path="url(#c25)"><g filter="url(#f26)"><rect x="440.20" y="636.60" width="78.30" height="112.70" fill="#c0c2c5"/><polygon points="438.2,634.6 520.5,634.6 512,639 453.8,639" fill="url(#g27)"/><polygon points="453.8,747.7 512,747.7 520.5,751.3 438.2,751.3" fill="url(#g28)"/><polygon points="438.2,634.6 453.8,639 453.8,747.7 438.2,751.3" fill="url(#g29)"/><polygon points="520.5,634.6 512,639 512,747.7 520.5,751.3" fill="url(#g30)"/><rect x="453.80" y="639.00" width="58.20" height="108.70" fill="#3a3a3a"/></g></g>
<rect x="457.80" y="590.00" width="96.80" height="145.00" fill="#f7f7f7" stroke="#c4c4c4" stroke-width="0.8"/>
<rect x="466.00" y="596.50" width="37.80" height="132.50" fill="#f0f0f0"/>
<rect x="466.00" y="596.50" width="37.80" height="5.00" fill="#e4e4e4"/>
<rect x="468.50" y="602.20" width="34.30" height="1.45" fill="#222222" fill-opacity="0.97"/><rect x="468.50" y="604.99" width="34.30" height="1.45" fill="#222222" fill-opacity="0.95"/><rect x="468.50" y="607.78" width="34.30" height="1.45" fill="#222222" fill-opacity="0.93"/><rect x="468.50" y="610.57" width="34.30" height="1.45" fill="#222222" fill-opacity="0.92"/><rect x="468.50" y="613.36" width="34.30" height="1.45" fill="#222222" fill-opacity="0.90"/><rect x="468.50" y="616.15" width="34.30" height="1.45" fill="#222222" fill-opacity="0.88"/><rect x="468.50" y="618.94" width="34.30" height="1.45" fill="#222222" fill-opacity="0.86"/><rect x="468.50" y="621.73" width="34.30" height="1.45" fill="#222222" fill-opacity="0.85"/><rect x="468.50" y="624.52" width="34.30" height="1.45" fill="#222222" fill-opacity="0.83"/><rect x="468.50" y="627.31" width="34.30" height="1.45" fill="#222222" fill-opacity="0.81"/><rect x="468.50" y="630.10" width="34.30" height="1.45" fill="#222222" fill-opacity="0.80"/><rect x="468.50" y="632.89" width="34.30" height="1.45" fill="#222222" fill-opacity="0.78"/><rect x="468.50" y="635.68" width="34.30" height="1.45" fill="#222222" fill-opacity="0.76"/><rect x="468.50" y="638.47" width="34.30" height="1.45" fill="#222222" fill-opacity="0.75"/><rect x="468.50" y="641.26" width="34.30" height="1.45" fill="#222222" fill-opacity="0.73"/><rect x="468.50" y="644.05" width="34.30" height="1.45" fill="#222222" fill-opacity="0.71"/><rect x="468.50" y="646.84" width="34.30" height="1.45" fill="#222222" fill-opacity="0.70"/><rect x="468.50" y="649.63" width="34.30" height="1.45" fill="#222222" fill-opacity="0.68"/><rect x="468.50" y="652.42" width="34.30" height="1.45" fill="#222222" fill-opacity="0.66"/><rect x="468.50" y="655.21" width="34.30" height="1.45" fill="#222222" fill-opacity="0.65"/><rect x="468.50" y="658.00" width="34.30" height="1.45" fill="#222222" fill-opacity="0.63"/><rect x="468.50" y="660.79" width="34.30" height="1.45" fill="#222222" fill-opacity="0.61"/><rect x="468.50" y="663.58" width="34.30" height="1.45" fill="#222222" fill-opacity="0.59"/><rect x="468.50" y="666.37" width="34.30" height="1.45" fill="#222222" fill-opacity="0.58"/><rect x="468.50" y="669.16" width="34.30" height="1.45" fill="#222222" fill-opacity="0.56"/><rect x="468.50" y="671.95" width="34.30" height="1.45" fill="#222222" fill-opacity="0.54"/><rect x="468.50" y="674.74" width="34.30" height="1.45" fill="#222222" fill-opacity="0.53"/><rect x="468.50" y="677.53" width="34.30" height="1.45" fill="#222222" fill-opacity="0.51"/><rect x="468.50" y="680.32" width="34.30" height="1.45" fill="#222222" fill-opacity="0.49"/><rect x="468.50" y="683.11" width="34.30" height="1.45" fill="#222222" fill-opacity="0.48"/><rect x="468.50" y="685.90" width="34.30" height="1.45" fill="#222222" fill-opacity="0.46"/><rect x="468.50" y="688.69" width="34.30" height="1.45" fill="#222222" fill-opacity="0.44"/><rect x="468.50" y="691.48" width="34.30" height="1.45" fill="#222222" fill-opacity="0.43"/><rect x="468.50" y="694.27" width="34.30" height="1.45" fill="#222222" fill-opacity="0.41"/><rect x="468.50" y="697.06" width="34.30" height="1.45" fill="#222222" fill-opacity="0.39"/><rect x="468.50" y="699.85" width="34.30" height="1.45" fill="#222222" fill-opacity="0.38"/><rect x="468.50" y="702.64" width="34.30" height="1.45" fill="#222222" fill-opacity="0.36"/><rect x="468.50" y="705.43" width="34.30" height="1.45" fill="#222222" fill-opacity="0.34"/><rect x="468.50" y="708.22" width="34.30" height="1.45" fill="#222222" fill-opacity="0.33"/><rect x="468.50" y="711.01" width="34.30" height="1.45" fill="#222222" fill-opacity="0.31"/><rect x="468.50" y="713.80" width="34.30" height="1.45" fill="#222222" fill-opacity="0.29"/><rect x="468.50" y="716.59" width="34.30" height="1.45" fill="#222222" fill-opacity="0.27"/><rect x="468.50" y="719.38" width="34.30" height="1.45" fill="#222222" fill-opacity="0.26"/><rect x="468.50" y="722.17" width="34.30" height="1.45" fill="#222222" fill-opacity="0.24"/><rect x="468.50" y="724.96" width="34.30" height="1.45" fill="#222222" fill-opacity="0.22"/>
<rect x="509.00" y="596.50" width="37.90" height="132.50" fill="#f0f0f0"/>
<rect x="509.00" y="596.50" width="37.90" height="5.00" fill="#e4e4e4"/>
<rect x="511.50" y="602.20" width="34.40" height="1.45" fill="#222222" fill-opacity="0.97"/><rect x="511.50" y="604.99" width="34.40" height="1.45" fill="#222222" fill-opacity="0.95"/><rect x="511.50" y="607.78" width="34.40" height="1.45" fill="#222222" fill-opacity="0.93"/><rect x="511.50" y="610.57" width="34.40" height="1.45" fill="#222222" fill-opacity="0.92"/><rect x="511.50" y="613.36" width="34.40" height="1.45" fill="#222222" fill-opacity="0.90"/><rect x="511.50" y="616.15" width="34.40" height="1.45" fill="#222222" fill-opacity="0.88"/><rect x="511.50" y="618.94" width="34.40" height="1.45" fill="#222222" fill-opacity="0.86"/><rect x="511.50" y="621.73" width="34.40" height="1.45" fill="#222222" fill-opacity="0.85"/><rect x="511.50" y="624.52" width="34.40" height="1.45" fill="#222222" fill-opacity="0.83"/><rect x="511.50" y="627.31" width="34.40" height="1.45" fill="#222222" fill-opacity="0.81"/><rect x="511.50" y="630.10" width="34.40" height="1.45" fill="#222222" fill-opacity="0.80"/><rect x="511.50" y="632.89" width="34.40" height="1.45" fill="#222222" fill-opacity="0.78"/><rect x="511.50" y="635.68" width="34.40" height="1.45" fill="#222222" fill-opacity="0.76"/><rect x="511.50" y="638.47" width="34.40" height="1.45" fill="#222222" fill-opacity="0.75"/><rect x="511.50" y="641.26" width="34.40" height="1.45" fill="#222222" fill-opacity="0.73"/><rect x="511.50" y="644.05" width="34.40" height="1.45" fill="#222222" fill-opacity="0.71"/><rect x="511.50" y="646.84" width="34.40" height="1.45" fill="#222222" fill-opacity="0.70"/><rect x="511.50" y="649.63" width="34.40" height="1.45" fill="#222222" fill-opacity="0.68"/><rect x="511.50" y="652.42" width="34.40" height="1.45" fill="#222222" fill-opacity="0.66"/><rect x="511.50" y="655.21" width="34.40" height="1.45" fill="#222222" fill-opacity="0.65"/><rect x="511.50" y="658.00" width="34.40" height="1.45" fill="#222222" fill-opacity="0.63"/><rect x="511.50" y="660.79" width="34.40" height="1.45" fill="#222222" fill-opacity="0.61"/><rect x="511.50" y="663.58" width="34.40" height="1.45" fill="#222222" fill-opacity="0.59"/><rect x="511.50" y="666.37" width="34.40" height="1.45" fill="#222222" fill-opacity="0.58"/><rect x="511.50" y="669.16" width="34.40" height="1.45" fill="#222222" fill-opacity="0.56"/><rect x="511.50" y="671.95" width="34.40" height="1.45" fill="#222222" fill-opacity="0.54"/><rect x="511.50" y="674.74" width="34.40" height="1.45" fill="#222222" fill-opacity="0.53"/><rect x="511.50" y="677.53" width="34.40" height="1.45" fill="#222222" fill-opacity="0.51"/><rect x="511.50" y="680.32" width="34.40" height="1.45" fill="#222222" fill-opacity="0.49"/><rect x="511.50" y="683.11" width="34.40" height="1.45" fill="#222222" fill-opacity="0.48"/><rect x="511.50" y="685.90" width="34.40" height="1.45" fill="#222222" fill-opacity="0.46"/><rect x="511.50" y="688.69" width="34.40" height="1.45" fill="#222222" fill-opacity="0.44"/><rect x="511.50" y="691.48" width="34.40" height="1.45" fill="#222222" fill-opacity="0.43"/><rect x="511.50" y="694.27" width="34.40" height="1.45" fill="#222222" fill-opacity="0.41"/><rect x="511.50" y="697.06" width="34.40" height="1.45" fill="#222222" fill-opacity="0.39"/><rect x="511.50" y="699.85" width="34.40" height="1.45" fill="#222222" fill-opacity="0.38"/><rect x="511.50" y="702.64" width="34.40" height="1.45" fill="#222222" fill-opacity="0.36"/><rect x="511.50" y="705.43" width="34.40" height="1.45" fill="#222222" fill-opacity="0.34"/><rect x="511.50" y="708.22" width="34.40" height="1.45" fill="#222222" fill-opacity="0.33"/><rect x="511.50" y="711.01" width="34.40" height="1.45" fill="#222222" fill-opacity="0.31"/><rect x="511.50" y="713.80" width="34.40" height="1.45" fill="#222222" fill-opacity="0.29"/><rect x="511.50" y="716.59" width="34.40" height="1.45" fill="#222222" fill-opacity="0.27"/><rect x="511.50" y="719.38" width="34.40" height="1.45" fill="#222222" fill-opacity="0.26"/><rect x="511.50" y="722.17" width="34.40" height="1.45" fill="#222222" fill-opacity="0.24"/><rect x="511.50" y="724.96" width="34.40" height="1.45" fill="#222222" fill-opacity="0.22"/>
<rect x="695.00" y="602.20" width="102.30" height="157.80" fill="#f7f7f7" stroke="#c4c4c4" stroke-width="0.8"/>
<rect x="706.00" y="611.50" width="37.40" height="139.50" fill="#f0f0f0"/>
<rect x="706.00" y="611.50" width="37.40" height="5.00" fill="#e4e4e4"/>
<rect x="708.50" y="617.30" width="33.90" height="1.5" fill="#222222" fill-opacity="0.97"/><rect x="708.50" y="620.23" width="33.90" height="1.5" fill="#222222" fill-opacity="0.95"/><rect x="708.50" y="623.16" width="33.90" height="1.5" fill="#222222" fill-opacity="0.93"/><rect x="708.50" y="626.09" width="33.90" height="1.5" fill="#222222" fill-opacity="0.92"/><rect x="708.50" y="629.02" width="33.90" height="1.5" fill="#222222" fill-opacity="0.90"/><rect x="708.50" y="631.95" width="33.90" height="1.5" fill="#222222" fill-opacity="0.88"/><rect x="708.50" y="634.88" width="33.90" height="1.5" fill="#222222" fill-opacity="0.87"/><rect x="708.50" y="637.81" width="33.90" height="1.5" fill="#222222" fill-opacity="0.85"/><rect x="708.50" y="640.74" width="33.90" height="1.5" fill="#222222" fill-opacity="0.83"/><rect x="708.50" y="643.67" width="33.90" height="1.5" fill="#222222" fill-opacity="0.82"/><rect x="708.50" y="646.60" width="33.90" height="1.5" fill="#222222" fill-opacity="0.80"/><rect x="708.50" y="649.53" width="33.90" height="1.5" fill="#222222" fill-opacity="0.78"/><rect x="708.50" y="652.46" width="33.90" height="1.5" fill="#222222" fill-opacity="0.77"/><rect x="708.50" y="655.39" width="33.90" height="1.5" fill="#222222" fill-opacity="0.75"/><rect x="708.50" y="658.32" width="33.90" height="1.5" fill="#222222" fill-opacity="0.73"/><rect x="708.50" y="661.25" width="33.90" height="1.5" fill="#222222" fill-opacity="0.71"/><rect x="708.50" y="664.18" width="33.90" height="1.5" fill="#222222" fill-opacity="0.70"/><rect x="708.50" y="667.11" width="33.90" height="1.5" fill="#222222" fill-opacity="0.68"/><rect x="708.50" y="670.04" width="33.90" height="1.5" fill="#222222" fill-opacity="0.66"/><rect x="708.50" y="672.97" width="33.90" height="1.5" fill="#222222" fill-opacity="0.65"/><rect x="708.50" y="675.90" width="33.90" height="1.5" fill="#222222" fill-opacity="0.63"/><rect x="708.50" y="678.83" width="33.90" height="1.5" fill="#222222" fill-opacity="0.61"/><rect x="708.50" y="681.76" width="33.90" height="1.5" fill="#222222" fill-opacity="0.60"/><rect x="708.50" y="684.69" width="33.90" height="1.5" fill="#222222" fill-opacity="0.58"/><rect x="708.50" y="687.62" width="33.90" height="1.5" fill="#222222" fill-opacity="0.56"/><rect x="708.50" y="690.55" width="33.90" height="1.5" fill="#222222" fill-opacity="0.55"/><rect x="708.50" y="693.48" width="33.90" height="1.5" fill="#222222" fill-opacity="0.53"/><rect x="708.50" y="696.41" width="33.90" height="1.5" fill="#222222" fill-opacity="0.51"/><rect x="708.50" y="699.34" width="33.90" height="1.5" fill="#222222" fill-opacity="0.50"/><rect x="708.50" y="702.27" width="33.90" height="1.5" fill="#222222" fill-opacity="0.48"/><rect x="708.50" y="705.20" width="33.90" height="1.5" fill="#222222" fill-opacity="0.46"/><rect x="708.50" y="708.13" width="33.90" height="1.5" fill="#222222" fill-opacity="0.45"/><rect x="708.50" y="711.06" width="33.90" height="1.5" fill="#222222" fill-opacity="0.43"/><rect x="708.50" y="713.99" width="33.90" height="1.5" fill="#222222" fill-opacity="0.41"/><rect x="708.50" y="716.92" width="33.90" height="1.5" fill="#222222" fill-opacity="0.40"/><rect x="708.50" y="719.85" width="33.90" height="1.5" fill="#222222" fill-opacity="0.38"/><rect x="708.50" y="722.78" width="33.90" height="1.5" fill="#222222" fill-opacity="0.36"/><rect x="708.50" y="725.71" width="33.90" height="1.5" fill="#222222" fill-opacity="0.35"/><rect x="708.50" y="728.64" width="33.90" height="1.5" fill="#222222" fill-opacity="0.33"/><rect x="708.50" y="731.57" width="33.90" height="1.5" fill="#222222" fill-opacity="0.31"/><rect x="708.50" y="734.50" width="33.90" height="1.5" fill="#222222" fill-opacity="0.29"/><rect x="708.50" y="737.43" width="33.90" height="1.5" fill="#222222" fill-opacity="0.28"/><rect x="708.50" y="740.36" width="33.90" height="1.5" fill="#222222" fill-opacity="0.26"/><rect x="708.50" y="743.29" width="33.90" height="1.5" fill="#222222" fill-opacity="0.24"/><rect x="708.50" y="746.22" width="33.90" height="1.5" fill="#222222" fill-opacity="0.23"/><rect x="708.50" y="749.15" width="33.90" height="1.5" fill="#222222" fill-opacity="0.21"/>
<rect x="748.30" y="611.50" width="37.40" height="139.50" fill="#f0f0f0"/>
<rect x="748.30" y="611.50" width="37.40" height="5.00" fill="#e4e4e4"/>
<rect x="750.80" y="617.30" width="33.90" height="1.5" fill="#222222" fill-opacity="0.97"/><rect x="750.80" y="620.23" width="33.90" height="1.5" fill="#222222" fill-opacity="0.95"/><rect x="750.80" y="623.16" width="33.90" height="1.5" fill="#222222" fill-opacity="0.93"/><rect x="750.80" y="626.09" width="33.90" height="1.5" fill="#222222" fill-opacity="0.92"/><rect x="750.80" y="629.02" width="33.90" height="1.5" fill="#222222" fill-opacity="0.90"/><rect x="750.80" y="631.95" width="33.90" height="1.5" fill="#222222" fill-opacity="0.88"/><rect x="750.80" y="634.88" width="33.90" height="1.5" fill="#222222" fill-opacity="0.87"/><rect x="750.80" y="637.81" width="33.90" height="1.5" fill="#222222" fill-opacity="0.85"/><rect x="750.80" y="640.74" width="33.90" height="1.5" fill="#222222" fill-opacity="0.83"/><rect x="750.80" y="643.67" width="33.90" height="1.5" fill="#222222" fill-opacity="0.82"/><rect x="750.80" y="646.60" width="33.90" height="1.5" fill="#222222" fill-opacity="0.80"/><rect x="750.80" y="649.53" width="33.90" height="1.5" fill="#222222" fill-opacity="0.78"/><rect x="750.80" y="652.46" width="33.90" height="1.5" fill="#222222" fill-opacity="0.77"/><rect x="750.80" y="655.39" width="33.90" height="1.5" fill="#222222" fill-opacity="0.75"/><rect x="750.80" y="658.32" width="33.90" height="1.5" fill="#222222" fill-opacity="0.73"/><rect x="750.80" y="661.25" width="33.90" height="1.5" fill="#222222" fill-opacity="0.71"/><rect x="750.80" y="664.18" width="33.90" height="1.5" fill="#222222" fill-opacity="0.70"/><rect x="750.80" y="667.11" width="33.90" height="1.5" fill="#222222" fill-opacity="0.68"/><rect x="750.80" y="670.04" width="33.90" height="1.5" fill="#222222" fill-opacity="0.66"/><rect x="750.80" y="672.97" width="33.90" height="1.5" fill="#222222" fill-opacity="0.65"/><rect x="750.80" y="675.90" width="33.90" height="1.5" fill="#222222" fill-opacity="0.63"/><rect x="750.80" y="678.83" width="33.90" height="1.5" fill="#222222" fill-opacity="0.61"/><rect x="750.80" y="681.76" width="33.90" height="1.5" fill="#222222" fill-opacity="0.60"/><rect x="750.80" y="684.69" width="33.90" height="1.5" fill="#222222" fill-opacity="0.58"/><rect x="750.80" y="687.62" width="33.90" height="1.5" fill="#222222" fill-opacity="0.56"/><rect x="750.80" y="690.55" width="33.90" height="1.5" fill="#222222" fill-opacity="0.55"/><rect x="750.80" y="693.48" width="33.90" height="1.5" fill="#222222" fill-opacity="0.53"/><rect x="750.80" y="696.41" width="33.90" height="1.5" fill="#222222" fill-opacity="0.51"/><rect x="750.80" y="699.34" width="33.90" height="1.5" fill="#222222" fill-opacity="0.50"/><rect x="750.80" y="702.27" width="33.90" height="1.5" fill="#222222" fill-opacity="0.48"/><rect x="750.80" y="705.20" width="33.90" height="1.5" fill="#222222" fill-opacity="0.46"/><rect x="750.80" y="708.13" width="33.90" height="1.5" fill="#222222" fill-opacity="0.45"/><rect x="750.80" y="711.06" width="33.90" height="1.5" fill="#222222" fill-opacity="0.43"/><rect x="750.80" y="713.99" width="33.90" height="1.5" fill="#222222" fill-opacity="0.41"/><rect x="750.80" y="716.92" width="33.90" height="1.5" fill="#222222" fill-opacity="0.40"/><rect x="750.80" y="719.85" width="33.90" height="1.5" fill="#222222" fill-opacity="0.38"/><rect x="750.80" y="722.78" width="33.90" height="1.5" fill="#222222" fill-opacity="0.36"/><rect x="750.80" y="725.71" width="33.90" height="1.5" fill="#222222" fill-opacity="0.35"/><rect x="750.80" y="728.64" width="33.90" height="1.5" fill="#222222" fill-opacity="0.33"/><rect x="750.80" y="731.57" width="33.90" height="1.5" fill="#222222" fill-opacity="0.31"/><rect x="750.80" y="734.50" width="33.90" height="1.5" fill="#222222" fill-opacity="0.29"/><rect x="750.80" y="737.43" width="33.90" height="1.5" fill="#222222" fill-opacity="0.28"/><rect x="750.80" y="740.36" width="33.90" height="1.5" fill="#222222" fill-opacity="0.26"/><rect x="750.80" y="743.29" width="33.90" height="1.5" fill="#222222" fill-opacity="0.24"/><rect x="750.80" y="746.22" width="33.90" height="1.5" fill="#222222" fill-opacity="0.23"/><rect x="750.80" y="749.15" width="33.90" height="1.5" fill="#222222" fill-opacity="0.21"/>
<path d="M63.3,921.3 C60,917 52,916.5 43.8,917.5 C35,919 26,925 20,933.5 C16,941 15.5,949 17.5,956 C19.5,962 20.5,966 17,974 C20,973.5 22.5,968 23.9,961 C24.5,955 23,950 24,945 C25.5,939 29,934.5 33,932 C40,928 48,927.5 55,928.4 C57,929 58.5,929.5 59.5,930.3 Z" fill="#d61f34" stroke="#e4c4c8" stroke-width="0.5"/>
<path d="M27.3,954.3 C26.5,948 27.5,943 30,939.5 C33.5,935 40,932.5 47,932 C51,932 54,932.8 55.6,934 L53.5,938.5 C50,937.5 46,937.5 42,938.5 C36,940 31.5,944 29.8,949 C29,951 28,953 27.3,954.3 Z" fill="#111111"/>
<path d="M32.5,944.5 C36,941.5 40,940.5 44,940.6 C50,940.8 55,943 58,947 C60,949.5 61,952 62.5,955.5 C64,958 66,960 67.2,961.8 L62.5,961 C62,965 61.8,970 61.8,975.5 C57,973 53,971 49,969.8 C44,970 38,970.5 33.3,970.8 C32,965 31.5,960 31.6,955 C31.6,951 31.8,947 32.5,944.5 Z" fill="#1f4f9e" stroke="#cfd6e2" stroke-width="0.7"/>
<ellipse cx="56.3" cy="955" rx="4" ry="1.6" fill="#d5d8de"/>
<path d="M74.8,939.2 L90,939.2 L82.4,958.8 Z" fill="#d0182c" stroke="#1a1a1a" stroke-width="0.9" stroke-linejoin="miter"/>
<path d="M74.8,939.2 L82.4,958.8 L80.2,958.8 L73.6,939.2 Z" fill="#1a1a1a"/>
<path d="M105.8,939.9 L100,939.9 C95.5,939.9 92.6,944 92.6,949.3 C92.6,954.6 95.5,958.6 100,958.6 L105.8,958.6 M93,949.3 L105.5,949.3" fill="none" stroke="#1a1a1a" stroke-width="1.3"/>
<path d="M111.8,959 L111.8,939.9 L124,958.6 L124,939.2" fill="none" stroke="#1a1a1a" stroke-width="1.3"/>
<path d="M129.2,939.9 L145.4,939.9 M137.3,939.9 L137.3,959" fill="none" stroke="#1a1a1a" stroke-width="1.3"/>
<path d="M149.6,939.2 L149.6,959" fill="none" stroke="#1a1a1a" stroke-width="1.5"/>
<text x="74.30" y="972.40" font-size="11.2" font-weight="normal" fill="#6a6a6a" textLength="76.11" lengthAdjust="spacingAndGlyphs">Air Products</text>
</svg>
</body></html>
